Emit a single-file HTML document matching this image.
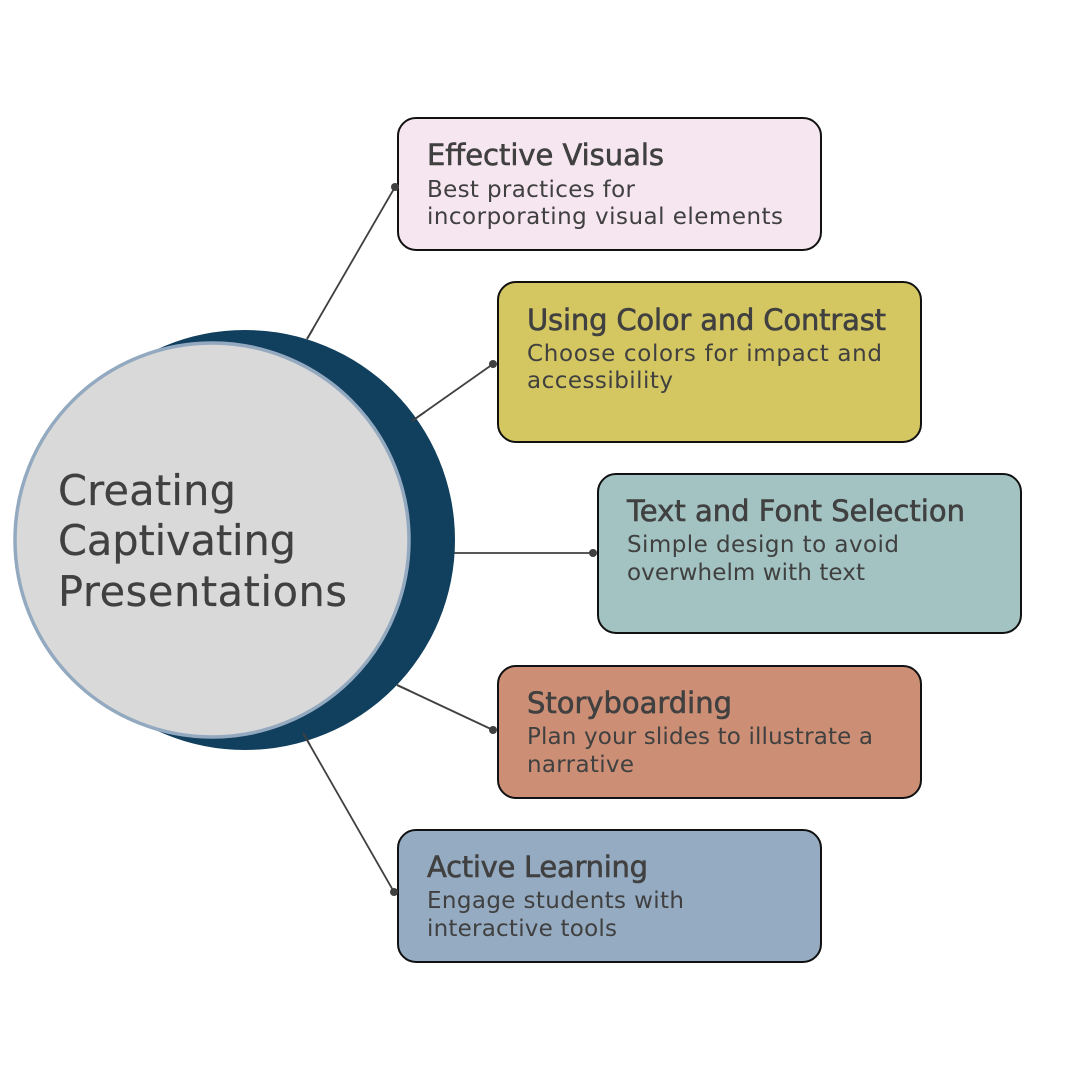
<!DOCTYPE html>
<html>
<head>
<meta charset="utf-8">
<style>
  html, body { margin: 0; padding: 0; background: #ffffff; }
  body { width: 1080px; height: 1080px; overflow: hidden; }
  svg { display: block; }
  .t { font-family: "DejaVu Sans", "Liberation Sans", sans-serif; font-size: 29px; fill: #404040; stroke: #404040; stroke-width: 0.6px; }
  .s { font-family: "DejaVu Sans", "Liberation Sans", sans-serif; font-size: 23px; fill: #404040; }
  .c { font-family: "DejaVu Sans", "Liberation Sans", sans-serif; font-size: 41.5px; fill: #404040; stroke: #404040; stroke-width: 0.2px; }
</style>
</head>
<body>
<svg width="1080" height="1080" viewBox="0 0 1080 1080" xmlns="http://www.w3.org/2000/svg">
  <rect width="1080" height="1080" fill="#ffffff"/>

  <!-- connectors -->
  <g stroke="#404040" stroke-width="1.8" fill="none">
    <line x1="307" y1="339" x2="395" y2="187"/>
    <line x1="412" y1="421" x2="493" y2="364"/>
    <line x1="450" y1="553" x2="593" y2="553"/>
    <line x1="397" y1="685" x2="493" y2="730"/>
    <line x1="303" y1="733" x2="394" y2="892"/>
  </g>

  <!-- circles -->
  <circle cx="245" cy="540" r="210" fill="#113f5e"/>
  <circle cx="212" cy="540" r="197" fill="#d9d9d9" stroke="#93a9c0" stroke-width="3.5"/>

  <!-- connector start segments drawn over dark circle -->
  <g stroke="#404040" stroke-width="1.8" fill="none">
    <line x1="307" y1="339" x2="313" y2="329"/>
    <line x1="412" y1="421" x2="425" y2="412"/>
    <line x1="397" y1="685" x2="410" y2="691"/>
    <line x1="303" y1="733" x2="310" y2="745"/>
  </g>

  <!-- center text -->
  <text class="c" x="58" y="505" textLength="178">Creating</text>
  <text class="c" x="58" y="555" textLength="238">Captivating</text>
  <text class="c" x="58" y="606" textLength="289">Presentations</text>

  <!-- boxes -->
  <g stroke="#111111" stroke-width="2">
    <rect x="398" y="118" width="423" height="132" rx="18" fill="#f6e6ef"/>
    <rect x="498" y="282" width="423" height="160" rx="18" fill="#d4c762"/>
    <rect x="598" y="474" width="423" height="159" rx="18" fill="#a3c2c2"/>
    <rect x="498" y="666" width="423" height="132" rx="18" fill="#cc8f76"/>
    <rect x="398" y="830" width="423" height="132" rx="18" fill="#95abc2"/>
  </g>

  <!-- dots -->
  <g fill="#404040">
    <circle cx="395" cy="187" r="4"/>
    <circle cx="493" cy="364" r="4"/>
    <circle cx="593" cy="553" r="4"/>
    <circle cx="493" cy="730" r="4"/>
    <circle cx="394" cy="892" r="4"/>
  </g>

  <!-- box 1 -->
  <text class="t" x="427" y="165" textLength="237">Effective Visuals</text>
  <text class="s" x="427" y="197" textLength="208">Best practices for</text>
  <text class="s" x="427" y="224" textLength="356">incorporating visual elements</text>

  <!-- box 2 -->
  <text class="t" x="527" y="330" textLength="359">Using Color and Contrast</text>
  <text class="s" x="527" y="361" textLength="355">Choose colors for impact and</text>
  <text class="s" x="527" y="388" textLength="146">accessibility</text>

  <!-- box 3 -->
  <text class="t" x="627" y="521" textLength="338">Text and Font Selection</text>
  <text class="s" x="627" y="552" textLength="272">Simple design to avoid</text>
  <text class="s" x="627" y="580" textLength="238">overwhelm with text</text>

  <!-- box 4 -->
  <text class="t" x="527" y="713" textLength="205">Storyboarding</text>
  <text class="s" x="527" y="744" textLength="346">Plan your slides to illustrate a</text>
  <text class="s" x="527" y="772" textLength="107">narrative</text>

  <!-- box 5 -->
  <text class="t" x="427" y="877" textLength="221">Active Learning</text>
  <text class="s" x="427" y="908" textLength="257">Engage students with</text>
  <text class="s" x="427" y="936" textLength="190">interactive tools</text>
</svg>
</body>
</html>
